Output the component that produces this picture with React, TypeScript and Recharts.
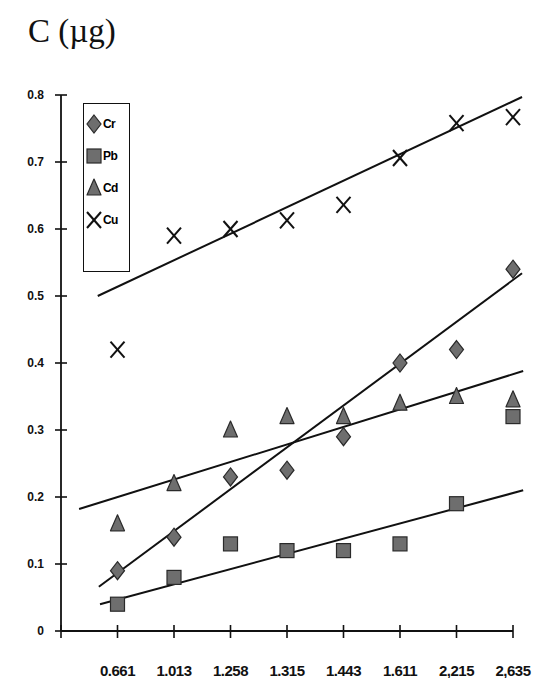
import {
  ComposedChart, XAxis, YAxis, Scatter, ReferenceLine,
} from 'recharts';

// category labels sit on positions 1..8 of a numeric 0..8 axis
const categories = ['0.661', '1.013', '1.258', '1.315', '1.443', '1.611', '2,215', '2,635'];
const positions = [1, 2, 3, 4, 5, 6, 7, 8];

const crValues = [0.09, 0.14, 0.23, 0.24, 0.29, 0.40, 0.42, 0.54];
const pbValues = [0.04, 0.08, 0.13, 0.12, 0.12, 0.13, 0.19, 0.32];
const cdValues = [0.16, 0.22, 0.30, 0.32, 0.32, 0.34, 0.35, 0.345];
const cuValues = [0.42, 0.59, 0.60, 0.613, 0.636, 0.706, 0.758, 0.767];

// trendline end points: [x, y]
const crTrend = [[0.67, 0.066], [8.16, 0.534]];
const pbTrend = [[0.69, 0.040], [8.18, 0.210]];
const cdTrend = [[0.32, 0.182], [8.18, 0.388]];
const cuTrend = [[0.65, 0.500], [8.16, 0.797]];

const yTicks = [0, 0.1, 0.2, 0.3, 0.4, 0.5, 0.6, 0.7, 0.8];
const xTicks = [0, ...positions];

const FILL = '#6e6e6e';
const EDGE = '#2a2a2a';
const SANS = 'Liberation Sans, Arial, sans-serif';

const toPoints = (vals: number[]) => vals.map((y, i) => ({ x: positions[i], y }));

function Diamond({ cx, cy }: any) {
  return <path d={`M${cx},${cy - 9} L${cx + 7},${cy} L${cx},${cy + 9} L${cx - 7},${cy} Z`} fill={FILL} stroke={EDGE} strokeWidth={1.2} />;
}
function Square({ cx, cy }: any) {
  return <rect x={cx - 7} y={cy - 7} width={14} height={14} fill={FILL} stroke={EDGE} strokeWidth={1.2} />;
}
function Triangle({ cx, cy }: any) {
  return <path d={`M${cx},${cy - 9} L${cx + 7},${cy + 7} L${cx - 7},${cy + 7} Z`} fill={FILL} stroke={EDGE} strokeWidth={1.2} strokeLinejoin="round" />;
}
function Cross({ cx, cy }: any) {
  return (
    <g stroke="#111" strokeWidth={2}>
      <line x1={cx - 7} y1={cy - 8} x2={cx + 7} y2={cy + 8} />
      <line x1={cx + 7} y1={cy - 8} x2={cx - 7} y2={cy + 8} />
    </g>
  );
}

// ticks cross the axis line, like the old Excel style
function YTick({ x, y, payload }: any) {
  return (
    <g>
      <line x1={x - 6} x2={x + 6} y1={y} y2={y} stroke="#111" strokeWidth={1.6} />
      <text x={x - 17} y={y} textAnchor="end" dominantBaseline="central"
        fontFamily={SANS} fontSize={12} fontWeight="bold" fill="#111">
        {String(payload.value)}
      </text>
    </g>
  );
}

function XTick({ x, y, payload }: any) {
  const idx = positions.indexOf(payload.value);
  return (
    <g>
      <line x1={x} x2={x} y1={y - 6} y2={y + 7} stroke="#111" strokeWidth={1.6} />
      {idx >= 0 && (
        <text x={x} y={y + 39} textAnchor="middle" dominantBaseline="central"
          fontFamily={SANS} fontSize={15} fontWeight="bold" letterSpacing={-0.5} fill="#111">
          {categories[idx]}
        </text>
      )}
    </g>
  );
}

const legendItems = [
  { name: 'Cr', Icon: Diamond },
  { name: 'Pb', Icon: Square },
  { name: 'Cd', Icon: Triangle },
  { name: 'Cu', Icon: Cross },
];

function LegendBox() {
  return (
    <div style={{
      position: 'absolute', left: 83, top: 103, width: 47, height: 169,
      border: '1.5px solid #111', background: '#fff', padding: '4px 0 0 1px', boxSizing: 'border-box',
    }}>
      {legendItems.map(({ name, Icon }) => (
        <div key={name} style={{ display: 'flex', alignItems: 'center', height: 32 }}>
          <svg width={18} height={20}>
            <Icon cx={9} cy={10} />
          </svg>
          <span style={{ fontFamily: SANS, fontSize: 12, fontWeight: 'bold', letterSpacing: -0.6 }}>{name}</span>
        </div>
      ))}
    </div>
  );
}

const trendProps = { stroke: '#111', strokeWidth: 2, ifOverflow: 'visible' as const };
const seg = (t: number[][]) => [{ x: t[0][0], y: t[0][1] }, { x: t[1][0], y: t[1][1] }] as any;

export default function App() {
  return (
    <div style={{ position: 'absolute', left: 0, top: 0, width: 536, height: 678, background: '#fff' }}>
      <div style={{ position: 'absolute', left: 28, top: 15, fontFamily: 'Liberation Serif, Times New Roman, serif', fontSize: 33, lineHeight: 1, color: '#111' }}>
        C (µg)
      </div>
      <ComposedChart width={536} height={678} margin={{ top: 95, right: 23, bottom: 0, left: 21 }}>
        <XAxis type="number" dataKey="x" domain={[0, 8]} ticks={xTicks} interval={0}
          axisLine={{ stroke: '#111', strokeWidth: 1.8 }} tickLine={false} tickSize={0} tickMargin={0}
          tick={<XTick />} height={47} />
        <YAxis type="number" dataKey="y" domain={[0, 0.8]} ticks={yTicks} interval={0} width={40}
          axisLine={{ stroke: '#111', strokeWidth: 1.8 }} tickLine={false} tickSize={0} tickMargin={0}
          tick={<YTick />} />
        <ReferenceLine segment={seg(cuTrend)} {...trendProps} />
        <ReferenceLine segment={seg(cdTrend)} {...trendProps} />
        <ReferenceLine segment={seg(crTrend)} {...trendProps} />
        <ReferenceLine segment={seg(pbTrend)} {...trendProps} />
        <Scatter name="Cd" data={toPoints(cdValues)} shape={<Triangle />} isAnimationActive={false} />
        <Scatter name="Pb" data={toPoints(pbValues)} shape={<Square />} isAnimationActive={false} />
        <Scatter name="Cr" data={toPoints(crValues)} shape={<Diamond />} isAnimationActive={false} />
        <Scatter name="Cu" data={toPoints(cuValues)} shape={<Cross />} isAnimationActive={false} />
      </ComposedChart>
      <LegendBox />
    </div>
  );
}
